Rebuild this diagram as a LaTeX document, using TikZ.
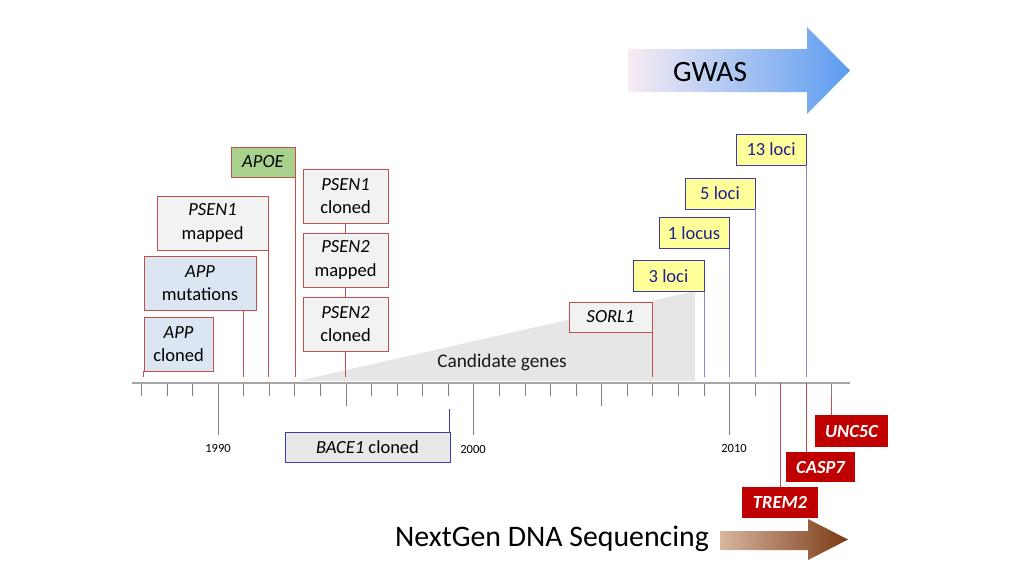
\documentclass[tikz,border=0pt]{standalone}
\usepackage{fontspec}
\setmainfont{Carlito}
\usetikzlibrary{calc}
\definecolor{redline}{HTML}{C0504D}
\definecolor{boxgray}{HTML}{F2F2F2}
\definecolor{appblue}{HTML}{DCE6F2}
\definecolor{apoegreen}{HTML}{A9D18E}
\definecolor{lociyellow}{HTML}{FFFF99}
\definecolor{lociborder}{HTML}{3C3CA0}
\definecolor{lociline}{HTML}{8585D5}
\definecolor{locitext}{HTML}{1F1F8F}
\definecolor{darkred}{HTML}{C00000}
\definecolor{axisgray}{HTML}{A6A6A6}
\definecolor{tickgray}{HTML}{808080}
\definecolor{candgray}{HTML}{E6E6E6}
\definecolor{gwasL}{HTML}{F8ECF4}
\definecolor{gwasM}{HTML}{B8D2F4}
\definecolor{gwasR}{HTML}{5B9CF0}
\definecolor{ngsL}{HTML}{D8B6A0}
\definecolor{ngsM}{HTML}{CD8C58}
\definecolor{ngsR}{HTML}{7A3A14}
\begin{document}
\begin{tikzpicture}[x=1pt,y=-1pt,
  font=\fontsize{18.5}{23.5}\selectfont,
  rbox/.style={draw=redline, fill=boxgray, line width=0.8pt, inner sep=0pt, align=center, text=black},
  lbox/.style={draw=lociborder, fill=lociyellow, line width=0.8pt, inner sep=0pt, align=center, text=locitext, minimum height=31},
  dbox/.style={fill=darkred, inner sep=0pt, align=center, text=white, font=\fontsize{18.5}{22}\selectfont\bfseries\itshape, minimum height=31},
  redcon/.style={draw=redline, line width=0.7pt},
  bluecon/.style={draw=lociline, line width=0.8pt},
  tickline/.style={draw=tickgray, line width=0.7pt},
  yearlab/.style={font=\fontsize{12.5}{14}\selectfont, text=black}
]
\useasboundingbox (0,0) rectangle (1024,576);

% candidate genes wedge
\fill[candgray] (298,381) -- (695,291) -- (695,381) -- cycle;
\node[text=black!90, font=\fontsize{19.3}{23}\selectfont] (cand) at (502,362) {Candidate genes};

% year coordinates on top of axis
\foreach \i in {0,...,27} {
  \pgfmathsetmacro{\xx}{141.3+25.57*\i}
  \pgfmathtruncatemacro{\yr}{1987+\i}
  \coordinate (t\yr) at (\xx,377);
  \coordinate (a\yr) at (\xx,383);
}

% ticks
\foreach \i in {0,...,27} {
  \draw[tickline] ({141.3+25.57*\i},383) -- ++(0,13);
}
\draw[tickline] (a1990) -- ++(0,52);
\draw[tickline] (a2000) -- ++(0,52);
\draw[tickline] (a2010) -- ++(0,52);
\draw[tickline] (a1995) -- ++(0,23);
\draw[tickline] (a2005) -- ++(0,23);

% axis
\draw[draw=axisgray, line width=2.2pt] (132,383) -- (850,383);

\node[yearlab] (y1990) at (218,448) {1990};
\node[yearlab] (y2000) at (473,449) {2000};
\node[yearlab] (y2010) at (734,448) {2010};

% red / early boxes
\node[rbox, fill=apoegreen, minimum width=64, minimum height=30] (apoe) at (263,162) {\textit{APOE}};
\node[rbox, minimum width=111, minimum height=54] (psen1m) at (212.5,223) {\textit{PSEN1}\\mapped};
\node[rbox, fill=appblue, minimum width=112, minimum height=54] (appm) at (200,283) {\textit{APP}\\mutations};
\node[rbox, fill=appblue, minimum width=69, minimum height=54] (appc) at (178.5,344) {\textit{APP}\\cloned};
\node[rbox, minimum width=85, minimum height=54] (psen1c) at (345.5,196) {\textit{PSEN1}\\cloned};
\node[rbox, minimum width=85, minimum height=54] (psen2m) at (345.5,260) {\textit{PSEN2}\\mapped};
\node[rbox, minimum width=85, minimum height=54] (psen2c) at (345.5,324) {\textit{PSEN2}\\cloned};
\node[rbox, minimum width=83, minimum height=30] (sorl1) at (610.5,317) {\textit{SORL1}};
\node[rbox, draw=lociborder, fill=candgray!80!boxgray, minimum width=165, minimum height=30] (bace1) at (367.5,447) {\textit{BACE1} cloned};

% connectors red
\draw[redcon] (appc.south west) -- (appc.south west |- t1987);
\draw[redcon] (t1991 |- appm.south) -- (t1991);
\draw[redcon] (psen1m.south east) -- (psen1m.south east |- t1992);
\draw[redcon] (apoe.south east) -- (apoe.south east |- t1993);
\draw[redcon] (psen1c.south) -- (psen2m.north);
\draw[redcon] (psen2m.south) -- (psen2c.north);
\draw[redcon] (psen2c.south) -- (psen2c.south |- t1995);
\draw[redcon] (sorl1.south east) -- (sorl1.south east |- t2007);
\coordinate (bacetop) at (449,409);
\draw[draw=lociborder, line width=0.8pt] (bacetop) -- (bacetop |- bace1.north);

% loci boxes
\node[lbox, minimum width=71] (l3) at (668.5,276) {3 loci};
\node[lbox, minimum width=70] (l1) at (694,233) {1 locus};
\node[lbox, minimum width=70] (l5) at (720,193.5) {5 loci};
\node[lbox, minimum width=70] (l13) at (771,149.5) {13 loci};
\draw[bluecon] (l3.south east) -- (l3.south east |- t2009);
\draw[bluecon] (l1.south east) -- (l1.south east |- t2010);
\draw[bluecon] (l5.south east) -- (l5.south east |- t2011);
\draw[bluecon] (l13.south east) -- (l13.south east |- t2013);

% dark red boxes
\node[dbox, minimum width=73, minimum height=32] (unc) at (851.5,431) {UNC5C};
\node[dbox, minimum width=69, minimum height=30] (casp) at (820.5,467) {CASP7};
\node[dbox, minimum width=76] (trem) at (780,502.5) {TREM2};
\draw[redcon] (a2012) -- (a2012 |- trem.north);
\draw[redcon] (a2013) -- (a2013 |- casp.north);
\draw[redcon] ($(a2014)+(0,13)$) -- (a2014 |- unc.north);

% GWAS arrow
\shade[left color=gwasL, middle color=gwasM, right color=gwasR]
  (628,49) -- (807,49) -- (807,27) -- (850,70.5) -- (807,114) -- (807,92) -- (628,92) -- cycle;
\node[font=\fontsize{29.5}{33}\selectfont, text=black] (gwas) at (710,72) {GWAS};

% NGS arrow
\shade[left color=ngsL, middle color=ngsM, right color=ngsR]
  (720,531) -- (808,531) -- (808,519) -- (848,539.5) -- (808,560) -- (808,550) -- (720,550) -- cycle;
\node[font=\fontsize{29.8}{33}\selectfont, text=black] (ngs) at (552,539) {NextGen DNA Sequencing};
\end{tikzpicture}
\end{document}
